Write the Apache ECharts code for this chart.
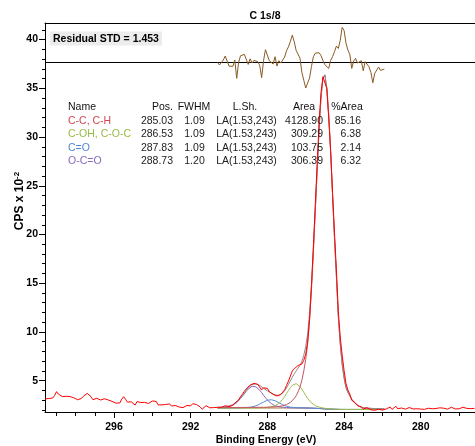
<!DOCTYPE html>
<html><head><meta charset="utf-8">
<script src="https://cdn.jsdelivr.net/npm/echarts@6/dist/echarts.min.js"></script>
<style>html,body{margin:0;padding:0;background:#fff}#c{width:475px;height:446px}</style>
</head><body><div id="c"></div>
<script>
// ---------- text ----------
const chartTitle = 'C 1s/8';
const residualLabel = 'Residual STD = 1.453';
const xAxisName = 'Binding Energy (eV)';
const yAxisNameMain = 'CPS x 10';
const yAxisNameSup = '-2';

// ---------- axes ----------
const xMin = 277.17, xMax = 299.6;
const yMin = 1.79, yMax = 41.7;
const xTickLabels = [280, 284, 288, 292, 296];
const xMinorTicks = [278,279,280,281,282,283,284,285,286,287,288,289,290,291,292,293,294,295,296,297,298,299];
const yTickLabels = [5, 10, 15, 20, 25, 30, 35, 40];
const yMinorTicks = [2,3,4,5,6,7,8,9,10,11,12,13,14,15,16,17,18,19,20,21,22,23,24,25,26,27,28,29,30,31,32,33,34,35,36,37,38,39,40,41];

// ---------- peak table ----------
const peakNames = ['C-C, C-H', 'C-OH, C-O-C', 'C=O', 'O-C=O'];
const peakPos = ['285.03', '286.53', '287.83', '288.73'];
const peakFwhm = ['1.09', '1.09', '1.09', '1.20'];
const peakLineShape = ['LA(1.53,243)', 'LA(1.53,243)', 'LA(1.53,243)', 'LA(1.53,243)'];
const peakArea = ['4128.90', '309.29', '103.75', '306.39'];
const peakPctArea = ['85.16', '6.38', '2.14', '6.32'];
const tableHeaders = ['Name', 'Pos.', 'FWHM', 'L.Sh.', 'Area', '%Area'];

// ---------- raw spectrum (binding energy 299.6 -> 277.2 eV, 0.1 eV step) ----------
const rawStart = 299.6, rawStep = 0.1;
const rawCounts = [
3.13,3.25,3.18,3.30,3.22,3.47,3.88,3.62,3.47,3.38,
3.48,3.40,3.50,3.38,3.52,3.25,3.32,3.05,2.90,3.18,
3.40,3.22,3.70,3.50,3.36,3.05,2.86,3.20,3.30,3.02,
2.90,3.15,3.22,3.02,3.10,2.88,2.86,2.70,2.78,2.72,
3.10,3.36,3.10,2.80,2.74,2.84,2.95,2.50,2.86,2.68,
2.76,2.86,2.78,2.84,2.66,2.72,2.92,2.84,2.88,2.52,
2.42,2.52,2.46,2.56,2.48,2.62,2.40,2.32,2.46,2.38,
2.30,2.36,2.24,2.40,2.46,2.34,2.42,2.64,2.60,2.56,
2.38,2.30,2.08,2.20,2.44,2.28,2.22,2.30,2.24,2.20,
2.27,2.24,2.27,2.35,2.43,2.47,2.35,2.42,2.48,2.71,
2.52,3.01,3.38,3.62,3.92,4.17,4.24,4.55,4.60,4.73,
4.68,4.63,4.45,4.05,4.27,4.34,4.21,3.88,3.76,3.60,
3.65,3.43,3.54,3.58,3.75,4.08,4.52,4.96,5.48,6.00,
6.22,6.31,6.56,6.69,6.72,7.10,7.72,8.98,11.32,14.73,
18.79,23.10,27.40,31.58,34.60,36.19,36.25,34.97,31.93,28.60,
24.31,20.19,16.38,12.10,9.49,7.64,6.06,4.72,4.05,3.61,
2.99,2.89,2.70,2.45,2.38,2.32,2.10,2.22,2.23,2.10,
2.01,1.84,1.97,1.96,2.06,2.00,1.99,2.02,
2.10,2.18,2.30,2.05,2.15,2.38,2.12,2.02,2.20,2.30,
2.08,2.12,2.25,2.05,2.10,2.07,2.12,2.04,2.09,2.14,
2.06,2.10,2.18,2.08,2.12,2.05,2.15,2.26,2.22,2.12,
2.18,2.10,2.08,2.20,2.28,2.14,2.10,2.06,2.12,2.18,
2.28,2.34,2.16,2.10,2.14,2.20,2.16
];

// ---------- fit region (290.6 -> 281.9 eV, 0.1 eV step) ----------
const fitStart = 290.6, fitStep = 0.1;
const backgroundLine = [
2.20,2.20,2.20,2.20,2.20,2.20,2.20,2.20,2.20,2.20,
2.20,2.20,2.20,2.20,2.20,2.20,2.20,2.20,2.20,2.20,
2.20,2.20,2.20,2.20,2.20,2.20,2.20,2.20,2.20,2.20,
2.20,2.20,2.20,2.20,2.20,2.20,2.20,2.20,2.20,2.20,
2.20,2.20,2.20,2.20,2.20,2.20,2.20,2.19,2.19,2.18,
2.18,2.17,2.16,2.15,2.14,2.12,2.11,2.10,2.09,2.08,
2.07,2.07,2.06,2.06,2.05,2.05,2.05,2.05,2.05,2.05,
2.05,2.05,2.05,2.05,2.05,2.05,2.05,2.05,2.05,2.05,
2.05,2.05,2.05,2.05,2.05,2.05,2.05,2.05
];
const compCC = [
2.24,2.24,2.24,2.24,2.24,2.25,2.25,2.25,2.25,2.25,
2.25,2.26,2.26,2.26,2.26,2.26,2.26,2.26,2.26,2.27,
2.27,2.27,2.27,2.27,2.27,2.27,2.28,2.29,2.30,2.31,
2.32,2.34,2.36,2.39,2.43,2.48,2.55,2.65,2.78,2.95,
3.17,3.45,3.85,4.35,5.05,6.00,7.20,8.79,11.13,14.35,
18.16,22.37,26.64,30.89,34.09,36.01,36.34,35.01,32.25,28.46,
24.00,19.68,15.69,11.60,8.80,6.70,5.30,4.30,3.80,3.45,
3.10,2.87,2.63,2.46,2.36,2.29,2.23,2.21,2.19,2.17,
2.16,2.15,2.14,2.13,2.13,2.12,2.12,2.12
];
const compCOH = [
2.20,2.20,2.20,2.20,2.20,2.20,2.20,2.20,2.20,2.20,
2.20,2.21,2.21,2.21,2.21,2.21,2.21,2.21,2.21,2.21,
2.21,2.22,2.22,2.23,2.24,2.25,2.27,2.30,2.32,2.36,
2.43,2.53,2.67,2.86,3.10,3.38,3.69,4.00,4.30,4.53,
4.67,4.70,4.60,4.40,4.12,3.81,3.50,3.19,2.94,2.72,
2.56,2.44,2.35,2.29,2.25,2.20,2.17,2.14,2.12,2.11,
2.09,2.09,2.08,2.07,2.06,2.06,2.05,2.05,2.05,2.05,
2.05,2.05,2.05,2.05,2.05,2.05,2.05,2.05,2.05,2.05,
2.05,2.05,2.05,2.05,2.05,2.05,2.05,2.05
];
const compCO = [
2.20,2.20,2.20,2.20,2.20,2.20,2.20,2.21,2.21,2.21,
2.21,2.21,2.22,2.22,2.23,2.24,2.26,2.28,2.31,2.36,
2.42,2.50,2.60,2.70,2.81,2.91,2.99,3.04,3.05,3.02,
2.95,2.85,2.75,2.64,2.54,2.45,2.38,2.33,2.29,2.26,
2.25,2.24,2.23,2.22,2.22,2.21,2.21,2.20,2.19,2.18,
2.18,2.17,2.16,2.15,2.14,2.12,2.11,2.10,2.09,2.08,
2.07,2.07,2.06,2.06,2.05,2.05,2.05,2.05,2.05,2.05,
2.05,2.05,2.05,2.05,2.05,2.05,2.05,2.05,2.05,2.05,
2.05,2.05,2.05,2.05,2.05,2.05,2.05,2.05
];
const compOCO = [
2.23,2.24,2.26,2.27,2.29,2.32,2.36,2.41,2.49,2.61,
2.75,2.94,3.17,3.40,3.66,3.92,4.15,4.32,4.43,4.45,
4.37,4.23,4.03,3.78,3.51,3.25,3.02,2.82,2.66,2.54,
2.44,2.38,2.33,2.30,2.28,2.26,2.25,2.23,2.22,2.22,
2.22,2.21,2.21,2.21,2.21,2.20,2.20,2.19,2.19,2.18,
2.18,2.17,2.16,2.15,2.14,2.12,2.11,2.10,2.09,2.08,
2.07,2.07,2.06,2.06,2.05,2.05,2.05,2.05,2.05,2.05,
2.05,2.05,2.05,2.05,2.05,2.05,2.05,2.05,2.05,2.05,
2.05,2.05,2.05,2.05,2.05,2.05,2.05,2.05
];
const envelope = [
2.27,2.28,2.30,2.31,2.33,2.37,2.41,2.47,2.55,2.67,
2.81,3.01,3.26,3.49,3.76,4.03,4.28,4.47,4.61,4.69,
4.67,4.62,4.52,4.38,4.23,4.08,3.96,3.85,3.73,3.63,
3.54,3.50,3.51,3.59,3.75,3.97,4.27,4.61,4.99,5.36,
5.71,6.00,6.29,6.58,7.00,7.62,8.51,9.80,11.88,14.89,
18.54,22.64,26.83,31.03,34.20,36.09,36.40,35.05,32.28,28.49,
24.02,19.70,15.71,11.61,8.81,6.71,5.31,4.30,3.80,3.45,
3.10,2.87,2.63,2.46,2.36,2.29,2.23,2.21,2.19,2.17,
2.16,2.15,2.14,2.13,2.13,2.12,2.12,2.12
];
// residual trace as drawn (chart units), around its zero line
const residualZero = 37.66;
const residual = [
37.66,37.39,37.49,37.90,38.31,38.34,37.28,37.32,37.25,37.90,
36.02,37.66,38.34,38.34,38.48,38.38,37.45,38.03,37.59,37.86,
37.73,37.73,37.35,36.09,37.83,38.96,38.89,37.83,37.83,37.49,
38.24,37.28,37.83,37.59,37.66,38.21,38.86,39.26,39.81,40.46,
39.78,38.89,38.72,38.10,36.63,35.81,35.03,35.09,36.05,37.25,
38.24,38.61,38.75,38.65,38.34,37.83,37.42,37.52,37.04,37.86,
38.24,38.75,39.33,39.09,39.91,41.25,40.94,39.64,38.92,38.48,
37.04,37.79,38.07,37.59,37.79,37.83,36.80,37.73,37.93,37.21,
36.63,35.57,36.53,36.53,37.18,36.84,36.77,36.97
];

// ---------- styles ----------
const peakColors = ['#d2464e', '#96bb45', '#4f86d2', '#8a68c0'];
const FONT = '"Liberation Sans", Arial, sans-serif';

function toPairs(start, step, vals) {
  return vals.map((v, i) => [+(start - i * step).toFixed(2), v]);
}

const chart = echarts.init(document.getElementById('c'), null, {renderer: 'canvas'});

function lineSeries(name, data, color, z) {
  return {
    name: name, type: 'line', data: data, showSymbol: false, symbol: 'none',
    lineStyle: {color: color, width: 1}, z: z, silent: true, animation: false,
    clip: true
  };
}

const series = [
  lineSeries('Background', toPairs(fitStart, fitStep, backgroundLine), '#a87c3c', 2),
  lineSeries(peakNames[3], toPairs(fitStart, fitStep, compOCO), '#8a68c0', 3),
  lineSeries(peakNames[2], toPairs(fitStart, fitStep, compCO), '#5a8ed6', 3),
  lineSeries(peakNames[1], toPairs(fitStart, fitStep, compCOH), '#9cbc4c', 3),
  lineSeries(peakNames[0], toPairs(fitStart, fitStep, compCC), '#c85560', 3),
  lineSeries('Envelope', toPairs(fitStart, fitStep, envelope), '#8c8c8c', 4),
  lineSeries('Raw', toPairs(rawStart, rawStep, rawCounts), '#ff0000', 5),
  Object.assign(lineSeries('Residual', toPairs(fitStart, fitStep, residual), '#8b5a22', 6), {
    markLine: {
      silent: true, symbol: 'none', animation: false,
      label: {show: false},
      lineStyle: {color: '#000', width: 1, type: 'solid'},
      data: [{yAxis: residualZero}]
    }
  })
];

// table graphics
const rowY = [107, 121, 134.5, 148, 161.5];
const tfont = '10.5px ' + FONT;
const graphics = [];
function txt(text, x, y, align, color, font) {
  graphics.push({type: 'text', x: x, y: y, silent: true, z: 10,
    style: {text: text, fill: color, font: font || tfont, textAlign: align, textVerticalAlign: 'middle'}});
}
txt(tableHeaders[0], 68, rowY[0], 'left', '#111');
txt(tableHeaders[1], 173, rowY[0], 'right', '#111');
txt(tableHeaders[2], 194, rowY[0], 'center', '#111');
txt(tableHeaders[3], 245, rowY[0], 'center', '#111');
txt(tableHeaders[4], 304, rowY[0], 'center', '#111');
txt(tableHeaders[5], 347, rowY[0], 'center', '#111');
for (let k = 0; k < peakNames.length; k++) {
  const y = rowY[k + 1];
  txt(peakNames[k], 68, y, 'left', peakColors[k]);
  txt(peakPos[k], 173, y, 'right', '#222');
  txt(peakFwhm[k], 194.5, y, 'center', '#222');
  txt(peakLineShape[k], 246.5, y, 'center', '#222');
  txt(peakArea[k], 323, y, 'right', '#222');
  txt(peakPctArea[k], 361, y, 'right', '#222');
}
// title
txt(chartTitle, 265, 16.5, 'center', '#000', 'bold 10.5px ' + FONT);
// residual STD box
graphics.push({type: 'text', x: 50, y: 31.5, silent: true, z: 10,
  style: {text: residualLabel, fill: '#000', font: 'bold 10.5px ' + FONT,
    backgroundColor: '#ececec', padding: [2, 3, 1, 3], textAlign: 'left', textVerticalAlign: 'top'}});
// y axis name (rotated, with superscript)
graphics.push({type: 'text', x: 20, y: 201, rotation: Math.PI / 2, silent: true, z: 10,
  style: {text: '{a|' + yAxisNameMain + '}{b|' + yAxisNameSup + '}', textAlign: 'center', textVerticalAlign: 'middle',
    rich: {a: {font: 'bold 12px ' + FONT, fill: '#000'}, b: {font: 'bold 8px ' + FONT, fill: '#000', verticalAlign: 'top', padding: [0, 0, 6, 0]}}}});
// x axis name
txt(xAxisName, 266, 440, 'center', '#000', 'bold 10.5px ' + FONT);

const axisLineStyle = {color: '#000', width: 1};
const labelStyle = {color: '#000', fontFamily: FONT, fontWeight: 'bold', fontSize: 10.5};

chart.setOption({
  animation: false,
  backgroundColor: '#fff',
  grid: {left: 45, right: 0, top: 23, bottom: 34, containLabel: false},
  xAxis: [
    {type: 'value', position: 'bottom', inverse: true, min: xMin, max: xMax,
      axisLine: {show: true, lineStyle: axisLineStyle},
      axisTick: {show: true, customValues: xTickLabels, length: 6, lineStyle: axisLineStyle},
      axisLabel: Object.assign({customValues: xTickLabels, margin: 10}, labelStyle),
      splitLine: {show: false}},
    {type: 'value', position: 'bottom', inverse: true, min: xMin, max: xMax,
      axisLine: {show: false},
      axisTick: {show: true, customValues: xMinorTicks, length: 4, lineStyle: axisLineStyle},
      axisLabel: {show: false}, splitLine: {show: false}},
    {type: 'value', position: 'top', inverse: true, min: xMin, max: xMax,
      axisLine: {show: true, lineStyle: axisLineStyle},
      axisTick: {show: false}, axisLabel: {show: false}, splitLine: {show: false}}
  ],
  yAxis: [
    {type: 'value', position: 'left', min: yMin, max: yMax,
      axisLine: {show: true, lineStyle: axisLineStyle},
      axisTick: {show: true, customValues: yTickLabels, length: 6, lineStyle: axisLineStyle},
      axisLabel: Object.assign({customValues: yTickLabels, margin: 7}, labelStyle),
      splitLine: {show: false}},
    {type: 'value', position: 'left', min: yMin, max: yMax,
      axisLine: {show: false},
      axisTick: {show: true, customValues: yMinorTicks, length: 3, lineStyle: axisLineStyle},
      axisLabel: {show: false}, splitLine: {show: false}}
  ],
  series: series,
  graphic: graphics
});
</script>
</body></html>
